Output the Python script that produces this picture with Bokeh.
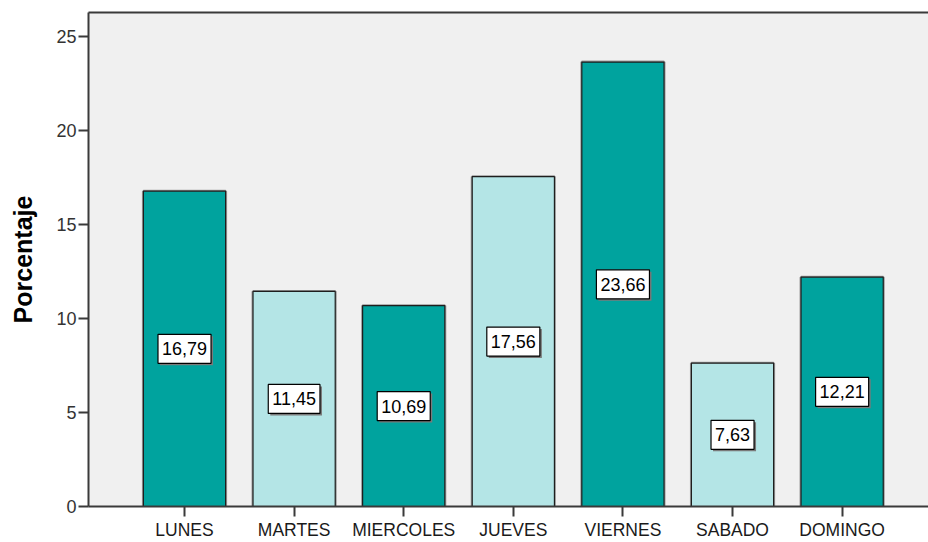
from bokeh.plotting import figure
from bokeh.models import ColumnDataSource, FixedTicker, LinearAxis, Range1d
from bokeh.core.properties import value
from bokeh.embed import file_html
from bokeh.resources import INLINE

# Porcentaje de casos por día de la semana
dias = ["LUNES", "MARTES", "MIERCOLES", "JUEVES", "VIERNES", "SABADO", "DOMINGO"]
porcentajes = [16.79, 11.45, 10.69, 17.56, 23.66, 7.63, 12.21]
ticks_y = [0, 5, 10, 15, 20, 25]

# alternating fill colours
paleta = ["#00a39e", "#b4e5e6"]
FONT_NAME = "Liberation Sans"

pos = list(range(1, len(dias) + 1))
src = ColumnDataSource(dict(
    x=pos,
    pct=porcentajes,
    mid=[v / 2 for v in porcentajes],
    label=[f"{v:.2f}".replace(".", ",") for v in porcentajes],
    color=[paleta[i % 2] for i in range(len(dias))],
))

p = figure(
    width=928, height=542,
    output_backend="svg", toolbar_location=None,
    x_range=Range1d(0.124, 7.788), y_range=Range1d(0, 26.3),
    min_border_left=88, min_border_right=0,
    min_border_top=12, min_border_bottom=35,
)
p.background_fill_color = "#f0f0f0"
p.border_fill_color = "white"
p.outline_line_color = None
p.grid.visible = False

AXIS_COLOR = "#3a3a3a"

# y axis
ya = p.yaxis[0]
ya.ticker = FixedTicker(ticks=ticks_y)
ya.axis_label = "Porcentaje"
ya.axis_label_text_font = FONT_NAME
ya.axis_label_text_font_style = "bold"
ya.axis_label_text_font_size = "25px"
ya.axis_label_text_color = "black"
ya.axis_label_standoff = 16
ya.major_label_text_font = FONT_NAME
ya.major_label_text_font_size = "18px"
ya.major_label_text_color = "#333333"
ya.major_label_standoff = 2
ya.major_tick_in = 0
ya.major_tick_out = 10
ya.minor_tick_in = 0
ya.minor_tick_out = 0

# x axis
xa = p.xaxis[0]
xa.ticker = FixedTicker(ticks=pos)
xa.major_label_overrides = {i: d for i, d in zip(pos, dias)}
xa.major_label_text_font = FONT_NAME
xa.major_label_text_font_size = "17.5px"
xa.major_label_text_color = "#1a1a1a"
xa.major_label_standoff = 3
xa.major_tick_in = 0
xa.major_tick_out = 10
xa.minor_tick_in = 0
xa.minor_tick_out = 0

for ax in (xa, ya):
    ax.axis_line_color = AXIS_COLOR
    ax.axis_line_width = 2
    ax.major_tick_line_color = AXIS_COLOR
    ax.major_tick_line_width = 2

# top border line
top = LinearAxis(ticker=FixedTicker(ticks=[]), axis_line_color=AXIS_COLOR,
                 axis_line_width=2, major_tick_out=0, major_tick_in=0,
                 minor_tick_out=0, minor_tick_in=0,
                 major_label_standoff=0, major_label_text_font_size="0px")
p.add_layout(top, "above")

# bars with soft grey shadow edge
p.vbar(x="x", top="pct", width=0.75, source=src, fill_color=None,
       line_color="#9a9a9a", line_width=3)
p.vbar(x="x", top="pct", width=0.75, source=src, fill_color="color",
       line_color="#1e1e1e", line_width=1.2)

# value boxes: shadow then box
common = dict(x="x", y="mid", text="label", source=src,
              text_align="center", text_baseline="middle",
              text_font=value(FONT_NAME), text_font_size="18px",
              padding=(4, 8))
p.text(**common, x_offset=2, y_offset=2, text_alpha=0,
       background_fill_color="#7a7a7a", border_line_color=None)
p.text(**common, text_color="black",
       background_fill_color="white", border_line_color="black",
       border_line_width=1.2)

open("out.html", "w").write(file_html(p, INLINE))
